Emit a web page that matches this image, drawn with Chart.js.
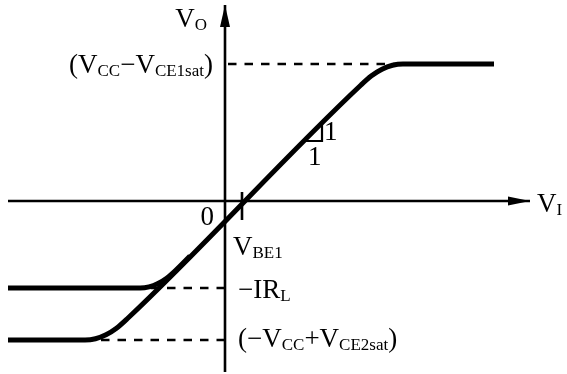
<!DOCTYPE html>
<html>
<head>
<meta charset="utf-8">
<script src="https://cdn.jsdelivr.net/npm/chart.js@4/dist/chart.umd.min.js"></script>
<style>
html,body{margin:0;padding:0;background:#fff;}
#c{display:block;}
</style>
</head>
<body>
<canvas id="c" width="567" height="374"></canvas>
<script>
// ---- values (x: V_I, y: V_O, arbitrary units) ----
const satHigh = 13.7;      // (Vcc - Vce1sat)
const satLow = -13.9;      // (-Vcc + Vce2sat)
const irlLevel = -8.7;     // -I R_L
const vbe1 = 1.7;          // V_BE1 tick
const xAxisEnds = [-21.7, 30.5];
const yAxisEnds = [-17.1, 19.6];
const vbeTickY = [0.9, -1.9];

// transfer curve to the supply limits
const mainCurveX = [-21.7, -14.0, -12.95, -11.9, -10.85, -9.8, 13.6, 14.65, 15.7, 16.75, 17.8, 26.9];
const mainCurveY = [-13.9, -13.9, -13.77, -13.375, -12.72, -11.8, 11.6, 12.52, 13.175, 13.57, 13.7, 13.7];
// transfer curve limited by the load
const loadCurveX = [-21.7, -8.5, -7.6, -6.7, -5.8, -4.9, -3.5];
const loadCurveY = [-8.7, -8.7, -8.59, -8.25, -7.69, -6.9, -5.5];
// dashed guide lines
const guideHighX = [0.3, 17.8];
const guideIrlX = [0, -8.5];
const guideLowX = [0, -14.0];
// slope 1:1 triangle
const slopeTriX = [8.0, 9.7, 9.7];
const slopeTriY = [6.0, 6.0, 7.7];

const zip = (xs, ys) => xs.map((x, i) => ({x: x, y: ys[i]}));
const flat = (xs, y) => xs.map(x => ({x: x, y: y}));

const MAIN = '27px "Liberation Serif", "Times New Roman", serif';
const SUB = '17px "Liberation Serif", "Times New Roman", serif';

const labels = [
  {x: -1.8, y: 17.4, align: 'right', parts: [['V', 0], ['O', 1]]},
  {x: -1.2, y: satHigh - 0.85, align: 'right', parts: [['(V', 0], ['CC', 1], ['\u2212V', 0], ['CE1sat', 1], [')', 0]]},
  {x: -1.1, y: -2.4, align: 'right', parts: [['0', 0]]},
  {x: 0.8, y: -5.4, align: 'left', parts: [['V', 0], ['BE1', 1]]},
  {x: 1.3, y: irlLevel - 1.0, align: 'left', parts: [['\u2212IR', 0], ['L', 1]]},
  {x: 1.3, y: satLow - 0.7, align: 'left', parts: [['(\u2212V', 0], ['CC', 1], ['+V', 0], ['CE2sat', 1], [')', 0]]},
  {x: 9.9, y: 6.1, align: 'left', parts: [['1', 0]]},
  {x: 8.3, y: 3.6, align: 'left', parts: [['1', 0]]},
  {x: 31.2, y: -1.1, align: 'left', parts: [['V', 0], ['I', 1]]}
];

const annotate = {
  id: 'annotate',
  afterDatasetsDraw(chart) {
    const ctx = chart.ctx;
    const sx = chart.scales.x, sy = chart.scales.y;
    ctx.save();
    ctx.fillStyle = '#000';
    // arrow heads
    const hx = sx.getPixelForValue(xAxisEnds[1]), hy = sy.getPixelForValue(0);
    ctx.beginPath();
    ctx.moveTo(hx, hy);
    ctx.lineTo(hx - 22, hy - 4.5);
    ctx.lineTo(hx - 22, hy + 4.5);
    ctx.closePath();
    ctx.fill();
    const vx = sx.getPixelForValue(0), vy = sy.getPixelForValue(yAxisEnds[1]);
    ctx.beginPath();
    ctx.moveTo(vx, vy);
    ctx.lineTo(vx - 5, vy + 22);
    ctx.lineTo(vx + 5, vy + 22);
    ctx.closePath();
    ctx.fill();
    // labels
    ctx.textBaseline = 'alphabetic';
    ctx.textAlign = 'left';
    labels.forEach(l => {
      let w = 0;
      l.parts.forEach(p => { ctx.font = p[1] ? SUB : MAIN; w += ctx.measureText(p[0]).width; });
      let px = sx.getPixelForValue(l.x);
      const py = sy.getPixelForValue(l.y);
      if (l.align === 'right') px -= w;
      l.parts.forEach(p => {
        ctx.font = p[1] ? SUB : MAIN;
        ctx.fillText(p[0], px, py + (p[1] ? 3 : 0));
        px += ctx.measureText(p[0]).width;
      });
    });
    ctx.restore();
  }
};

const solid = (data, w) => ({data: data, showLine: true, borderColor: '#000', borderWidth: w, pointRadius: 0, fill: false, tension: 0});
const dashed = (data) => Object.assign(solid(data, 2.6), {borderDash: [8.5, 8]});
const curve = (data) => Object.assign(solid(data, 5), {cubicInterpolationMode: 'monotone', borderCapStyle: 'butt', borderJoinStyle: 'round'});

new Chart(document.getElementById('c'), {
  type: 'scatter',
  data: {
    datasets: [
      solid(flat(xAxisEnds, 0), 2.6),
      solid(yAxisEnds.map(y => ({x: 0, y: y})), 2.6),
      solid(vbeTickY.map(y => ({x: vbe1, y: y})), 2.6),
      dashed(flat(guideHighX, satHigh)),
      dashed(flat(guideIrlX, irlLevel)),
      dashed(flat(guideLowX, satLow)),
      curve(zip(mainCurveX, mainCurveY)),
      curve(zip(loadCurveX, loadCurveY)),
      solid(zip(slopeTriX, slopeTriY), 2.2)
    ]
  },
  options: {
    responsive: false,
    devicePixelRatio: 1,
    animation: false,
    layout: {padding: 0},
    plugins: {legend: {display: false}, tooltip: {enabled: false}},
    scales: {
      x: {type: 'linear', min: -22.5, max: 34.2, display: false},
      y: {type: 'linear', min: -17.3, max: 20.1, display: false}
    }
  },
  plugins: [annotate]
});
</script>
</body>
</html>
